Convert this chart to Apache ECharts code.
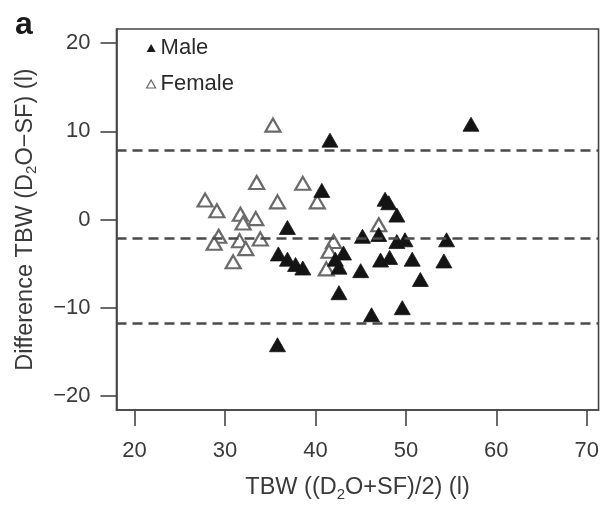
<!DOCTYPE html>
<html>
<head>
<meta charset="utf-8">
<script src="https://cdn.jsdelivr.net/npm/echarts@6/dist/echarts.min.js"></script>
<style>
  html, body { margin: 0; padding: 0; background: #fff; }
  #chart { width: 602px; height: 507px; }
</style>
</head>
<body>
<div id="chart"></div>
<script>
// Bland–Altman plot: total body water, D2O dilution vs. SF method

// Male subjects: mean of both methods (l) and difference D2O − SF (l)
const maleTBW = [57.2, 41.6, 40.7, 47.7, 48.1, 49.0, 36.9, 47.0, 45.2, 49.0, 49.9, 54.5,
                 43.1, 42.2, 42.6, 35.9, 36.9, 37.8, 38.6, 45.0, 47.2, 48.2, 50.7, 54.2,
                 51.6, 42.6, 46.2, 49.6, 35.8];
const maleDiff = [10.8, 9.0, 3.3, 2.3, 1.9, 0.5, -0.9, -1.7, -1.9, -2.5, -2.3, -2.3,
                  -3.8, -4.5, -5.4, -3.9, -4.5, -5.1, -5.5, -5.8, -4.6, -4.3, -4.5, -4.7,
                  -6.8, -8.3, -10.8, -10.0, -14.2];

// Female subjects
const femaleTBW = [35.3, 38.6, 33.5, 40.2, 35.8, 27.8, 29.1, 31.7, 32.0, 33.4, 29.3, 28.8,
                   31.6, 32.3, 33.9, 30.9, 47.0, 42.0, 41.5, 41.2];
const femaleDiff = [10.7, 4.1, 4.2, 2.0, 2.0, 2.2, 1.0, 0.6, -0.4, 0.1, -1.9, -2.7,
                    -2.4, -3.3, -2.2, -4.8, -0.6, -2.5, -3.6, -5.6];

// Mean difference and limits of agreement
const upperLimit = 7.8;
const meanDiff = -2.1;
const lowerLimit = -11.8;

// Tick labels
const xTicks = [20, 30, 40, 50, 60, 70];
const yTicks = [-20, -10, 0, 10, 20];

const seriesNames = ['Male', 'Female'];

const toPoints = (xs, ys) => xs.map((x, i) => [x, ys[i]]);

const FONT = 'Liberation Sans, Arial, Helvetica, sans-serif';
const INK = '#3a3a3a';

const nameRich = {
  t: { fontFamily: FONT, fontSize: 23.5, color: INK, lineHeight: 28, verticalAlign: 'middle' },
  s: { fontFamily: FONT, fontSize: 15, color: INK, lineHeight: 15, verticalAlign: 'bottom' }
};

const chart = echarts.init(document.getElementById('chart'), null, { renderer: 'canvas' });

chart.setOption({
  animation: false,
  backgroundColor: '#ffffff',
  title: {
    text: 'a',
    left: 10,
    top: 4,
    textStyle: { fontFamily: FONT, fontSize: 32, fontWeight: 'bold', color: '#1a1a1a' }
  },
  legend: {
    orient: 'vertical',
    left: 146,
    top: 37,
    itemWidth: 9,
    itemHeight: 8,
    itemGap: 14,
    padding: 0,
    textStyle: { fontFamily: FONT, fontSize: 22, color: '#2a2a2a', lineHeight: 22 },
    data: [
      { name: seriesNames[0], icon: 'triangle', itemStyle: { color: '#1a1a1a', borderWidth: 0 } },
      { name: seriesNames[1], icon: 'triangle', itemStyle: { color: '#ffffff', borderColor: '#666', borderWidth: 1.2 } }
    ]
  },
  grid: {
    left: 116.5,
    right: 1,
    top: 29,
    bottom: 87,
    show: true,
    borderColor: '#444',
    borderWidth: 1.6,
    backgroundColor: 'transparent'
  },
  xAxis: {
    type: 'value',
    min: 18,
    max: 71.3,
    name: '{t|TBW ((D}{s|2}{t|O+SF)/2) (l)}',
    nameLocation: 'middle',
    nameGap: 64,
    nameTextStyle: { fontFamily: FONT, color: INK, rich: nameRich },
    splitLine: { show: false },
    axisLine: { show: true, onZero: false, lineStyle: { color: '#444', width: 1.6 } },
    axisTick: { show: true, inside: false, length: 16, customValues: xTicks, lineStyle: { color: '#444', width: 1.6 } },
    axisLabel: { customValues: xTicks, margin: 30, fontFamily: FONT, fontSize: 22, color: INK }
  },
  yAxis: {
    type: 'value',
    min: -21.6,
    max: 21.6,
    name: '{t|Difference TBW (D}{s|2}{t|O\u2212SF) (l)}',
    nameLocation: 'middle',
    nameGap: 77,
    nameRotate: 90,
    nameTextStyle: { fontFamily: FONT, color: INK, rich: nameRich },
    splitLine: { show: false },
    axisLine: { show: true, onZero: false, lineStyle: { color: '#444', width: 1.6 } },
    axisTick: { show: true, inside: false, length: 16, customValues: yTicks, lineStyle: { color: '#444', width: 1.6 } },
    axisLabel: {
      customValues: yTicks,
      margin: 26,
      fontFamily: FONT,
      fontSize: 22,
      color: INK,
      formatter: v => (v < 0 ? '\u2212' + Math.abs(v) : String(v))
    }
  },
  series: [
    {
      name: seriesNames[1],
      type: 'scatter',
      symbol: 'triangle',
      symbolSize: [15, 13],
      z: 3,
      itemStyle: { color: '#ffffff', borderColor: '#6a6a6a', borderWidth: 2.2, opacity: 1 },
      data: toPoints(femaleTBW, femaleDiff),
      markLine: {
        silent: true,
        symbol: ['none', 'none'],
        label: { show: false },
        lineStyle: { type: [10, 6], color: '#4a4a4a', width: 2.6 },
        data: [{ yAxis: upperLimit }, { yAxis: meanDiff }, { yAxis: lowerLimit }]
      }
    },
    {
      name: seriesNames[0],
      type: 'scatter',
      symbol: 'triangle',
      symbolSize: [16, 14],
      z: 4,
      itemStyle: { color: '#141414', borderColor: '#141414', borderWidth: 0.8, opacity: 1 },
      data: toPoints(maleTBW, maleDiff)
    }
  ]
});
</script>
</body>
</html>
